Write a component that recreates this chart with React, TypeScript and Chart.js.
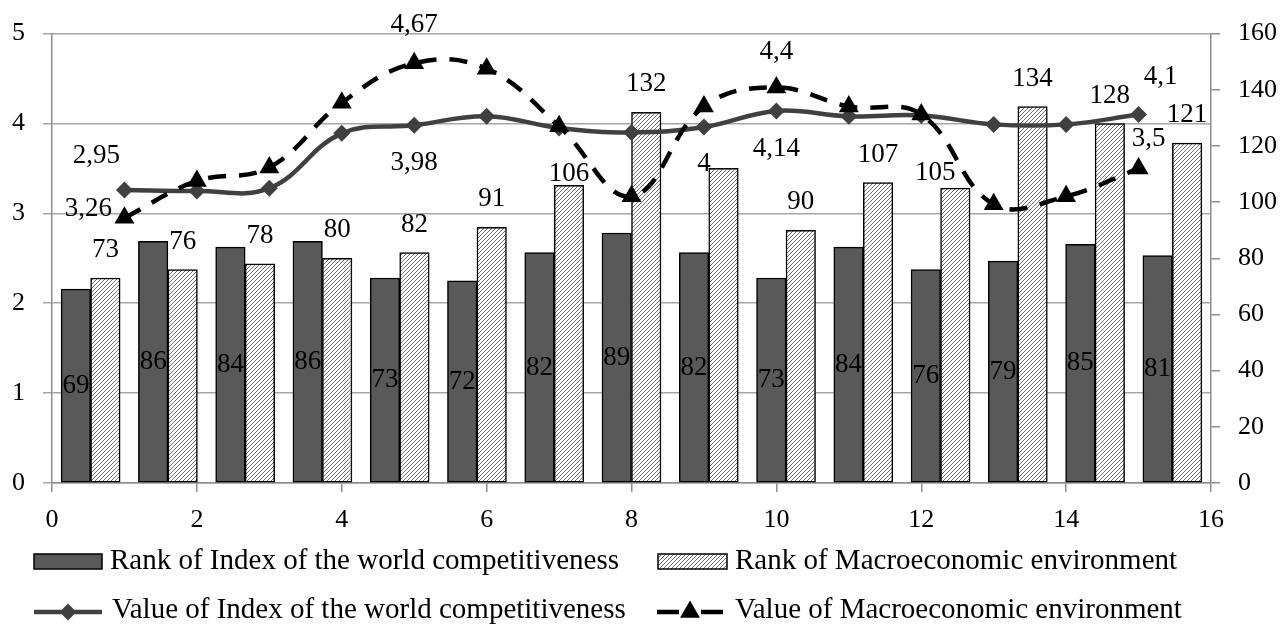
import React, { useEffect, useRef } from 'react';
import { Chart, registerables } from 'chart.js';

Chart.register(...registerables);

// ---------- data ----------
const categories = ['1', '2', '3', '4', '5', '6', '7', '8', '9', '10', '11', '12', '13', '14', '15'];
const periods = [1, 2, 3, 4, 5, 6, 7, 8, 9, 10, 11, 12, 13, 14, 15];
const rankIndex = [69, 86, 84, 86, 73, 72, 82, 89, 82, 73, 84, 76, 79, 85, 81];
const rankMacro = [73, 76, 78, 80, 82, 91, 106, 132, 112, 90, 107, 105, 134, 128, 121];
const valueIndex = [3.26, 3.25, 3.28, 3.89, 3.98, 4.08, 3.95, 3.9, 3.96, 4.14, 4.08, 4.09, 3.99, 3.99, 4.1];
const valueMacro = [2.95, 3.36, 3.51, 4.23, 4.67, 4.61, 3.97, 3.19, 4.19, 4.4, 4.19, 4.1, 3.1, 3.19, 3.5];

const rankMacroLabels = ['73', '76', '78', '80', '82', '91', '106', '132', '', '90', '107', '105', '134', '128', '121'];
const valueIndexLabels = ['2,95', '', '', '', '3,98', '', '', '', '4', '4,14', '', '', '', '', '4,1'];
const valueMacroLabels = ['3,26', '', '', '', '4,67', '', '', '', '', '4,4', '', '', '', '', '3,5'];

const legendNames = [
  'Rank of Index of the world competitiveness',
  'Rank of Macroeconomic environment',
  'Value of Index of the world competitiveness',
  'Value of Macroeconomic environment',
];

const leftTickStep = 1;
const rightTickStep = 20;
const xTickStep = 2;

// ---------- styling (label placement, in px) ----------
const FONT = "'Liberation Serif', 'Times New Roman', serif";
const TICK_FS = 26;
const LABEL_FS = 27;
const LEGEND_FS = 29;
const BAR_W = 29.5;
const macroBarLabelNudge: Record<number, [number, number]> = { 6: [0, -11], 11: [-20, -15] };
const indexLabelNudge: Record<number, [number, number]> = { 0: [-28, -34], 4: [0, 38], 8: [0, 37], 9: [0, 38], 14: [22, -38] };
const macroLabelNudge: Record<number, [number, number]> = { 0: [-36, -9], 4: [0, -38], 9: [0, -36], 14: [10, -30] };

function makeHatch(ctx: CanvasRenderingContext2D) {
  const s = 4;
  const c = document.createElement('canvas');
  c.width = s;
  c.height = s;
  const g = c.getContext('2d')!;
  g.fillStyle = '#ffffff';
  g.fillRect(0, 0, s, s);
  g.strokeStyle = '#707070';
  g.lineWidth = 1;
  g.beginPath();
  g.moveTo(0, s);
  g.lineTo(s, 0);
  g.moveTo(-1, 1);
  g.lineTo(1, -1);
  g.moveTo(s - 1, s + 1);
  g.lineTo(s + 1, s - 1);
  g.stroke();
  return ctx.createPattern(c, 'repeat')!;
}

function drawDiamond(ctx: CanvasRenderingContext2D, x: number, y: number, r: number, color: string) {
  ctx.beginPath();
  ctx.moveTo(x, y - r);
  ctx.lineTo(x + r, y);
  ctx.lineTo(x, y + r);
  ctx.lineTo(x - r, y);
  ctx.closePath();
  ctx.fillStyle = color;
  ctx.fill();
}

function drawTriangle(ctx: CanvasRenderingContext2D, x: number, y: number, r: number, color: string) {
  const h = Math.sqrt(3) / 2 * r;
  ctx.beginPath();
  ctx.moveTo(x, y - r);
  ctx.lineTo(x + h, y + r / 2);
  ctx.lineTo(x - h, y + r / 2);
  ctx.closePath();
  ctx.fillStyle = color;
  ctx.fill();
}

export default function App() {
  const ref = useRef<HTMLCanvasElement | null>(null);

  useEffect(() => {
    document.body.style.margin = '0';
    document.body.style.overflow = 'hidden';
    const canvas = ref.current!;
    const ctx = canvas.getContext('2d')!;
    const hatch = makeHatch(ctx);

    // dataset indices
    const DASHED = 0, SOLID = 1, DARK = 2, HATCH = 3;

    const labelPlugin = {
      id: 'customLabels',
      afterDatasetsDraw(chart: any) {
        const c = chart.ctx as CanvasRenderingContext2D;
        c.save();
        c.font = `${LABEL_FS}px ${FONT}`;
        c.fillStyle = '#000';
        c.textAlign = 'center';
        c.textBaseline = 'middle';
        chart.getDatasetMeta(DARK).data.forEach((bar: any, i: number) => {
          c.fillText(String(rankIndex[i]), bar.x, (bar.y + bar.base) / 2);
        });
        chart.getDatasetMeta(HATCH).data.forEach((bar: any, i: number) => {
          const t = rankMacroLabels[i];
          if (!t) return;
          const [dx, dy] = macroBarLabelNudge[i] ?? [0, -28];
          c.fillText(t, bar.x + dx, bar.y + dy);
        });
        chart.getDatasetMeta(SOLID).data.forEach((pt: any, i: number) => {
          const t = valueIndexLabels[i];
          if (!t) return;
          const [dx, dy] = indexLabelNudge[i] ?? [0, -38];
          c.fillText(t, pt.x + dx, pt.y + dy);
        });
        chart.getDatasetMeta(DASHED).data.forEach((pt: any, i: number) => {
          const t = valueMacroLabels[i];
          if (!t) return;
          const [dx, dy] = macroLabelNudge[i] ?? [0, -38];
          c.fillText(t, pt.x + dx, pt.y + dy);
        });
        c.restore();
      },
      afterDraw(chart: any) {
        const c = chart.ctx as CanvasRenderingContext2D;
        c.save();
        c.font = `${LEGEND_FS}px ${FONT}`;
        c.fillStyle = '#000';
        c.textAlign = 'left';
        c.textBaseline = 'alphabetic';
        // row 1
        const r1 = 569;
        c.fillStyle = '#595959';
        c.fillRect(34, 554, 68, 15);
        c.strokeStyle = '#000';
        c.lineWidth = 1.5;
        c.strokeRect(34, 554, 68, 15);
        c.fillStyle = '#000';
        c.fillText(legendNames[0], 110, r1);
        c.fillStyle = hatch;
        c.fillRect(658, 554, 69, 15);
        c.strokeRect(658, 554, 69, 15);
        c.fillStyle = '#000';
        c.fillText(legendNames[1], 735, r1);
        // row 2
        const r2 = 618;
        const ly = 612;
        c.strokeStyle = '#404040';
        c.lineWidth = 4.5;
        c.beginPath();
        c.moveTo(34, ly);
        c.lineTo(102, ly);
        c.stroke();
        drawDiamond(c, 68, ly, 8.5, '#404040');
        c.fillStyle = '#000';
        c.fillText(legendNames[2], 112, r2);
        c.strokeStyle = '#000';
        c.beginPath();
        c.moveTo(657, ly);
        c.lineTo(679, ly);
        c.moveTo(701, ly);
        c.lineTo(723, ly);
        c.stroke();
        drawTriangle(c, 690, ly, 11.5, '#000');
        c.fillStyle = '#000';
        c.fillText(legendNames[3], 735, r2);
        c.restore();
      },
    };

    const axisGray = '#8c8c8c';
    const gridGray = '#a6a6a6';
    const tickFont = { family: FONT, size: TICK_FS };

    const chart = new Chart(canvas, {
      type: 'bar',
      data: {
        labels: categories,
        datasets: [
          {
            type: 'line',
            label: legendNames[3],
            data: periods.map((p, i) => ({ x: p, y: valueMacro[i] })),
            xAxisID: 'xv',
            yAxisID: 'yL',
            grouped: false,
            borderColor: '#000',
            backgroundColor: '#000',
            borderWidth: 4.5,
            borderDash: [18, 13],
            tension: 0.4,
            pointStyle: 'triangle',
            pointRadius: 11.5,
            pointBorderWidth: 0,
            fill: false,
          },
          {
            type: 'line',
            label: legendNames[2],
            data: periods.map((p, i) => ({ x: p, y: valueIndex[i] })),
            xAxisID: 'xv',
            yAxisID: 'yL',
            grouped: false,
            borderColor: '#404040',
            backgroundColor: '#404040',
            borderWidth: 4.5,
            tension: 0.4,
            pointStyle: 'rectRot',
            pointRadius: 8.5,
            pointBorderWidth: 0,
            fill: false,
          },
          {
            type: 'bar',
            label: legendNames[0],
            data: rankIndex,
            xAxisID: 'x',
            yAxisID: 'yR',
            backgroundColor: '#595959',
            borderColor: '#000',
            borderWidth: 1.5,
            borderSkipped: false,
            barThickness: BAR_W,
          },
          {
            type: 'bar',
            label: legendNames[1],
            data: rankMacro,
            xAxisID: 'x',
            yAxisID: 'yR',
            backgroundColor: hatch as any,
            borderColor: '#000',
            borderWidth: 1.5,
            borderSkipped: false,
            barThickness: BAR_W,
          },
        ] as any,
      },
      options: {
        responsive: false,
        animation: false,
        layout: { padding: { top: 32, left: 0, right: 0, bottom: 0 } },
        plugins: {
          legend: { display: false },
          tooltip: { enabled: false },
          title: { display: false },
        },
        scales: {
          x: {
            type: 'category',
            display: false,
            offset: true,
            grid: { offset: true },
          },
          xv: {
            type: 'linear',
            position: 'bottom',
            min: 0,
            max: 16,
            offset: false,
            ticks: { stepSize: xTickStep, font: tickFont, color: '#000', padding: 13, maxRotation: 0 },
            grid: { offset: false, drawOnChartArea: false, drawTicks: true, tickLength: 9, color: axisGray, lineWidth: 1.5 },
            border: { color: axisGray, width: 1.5 },
            afterFit: (s: any) => { s.height = 142; },
          },
          yL: {
            type: 'linear',
            position: 'left',
            min: 0,
            max: 5,
            ticks: { stepSize: leftTickStep, font: tickFont, color: '#000', padding: 18 },
            grid: { color: gridGray, lineWidth: 1.5, tickLength: 9, drawTicks: true },
            border: { color: axisGray, width: 1.5 },
            afterFit: (s: any) => { s.width = 52; },
          },
          yR: {
            type: 'linear',
            position: 'right',
            min: 0,
            max: 160,
            ticks: { stepSize: rightTickStep, font: tickFont, color: '#000', padding: 18 },
            grid: { drawOnChartArea: false, color: axisGray, lineWidth: 1.5, tickLength: 9, drawTicks: true },
            border: { color: axisGray, width: 1.5 },
            afterFit: (s: any) => { s.width = 70; },
          },
        },
      } as any,
      plugins: [labelPlugin],
    });

    return () => chart.destroy();
  }, []);

  return (
    <canvas
      ref={ref}
      width={1281}
      height={625}
      style={{ display: 'block', width: '1281px', height: '625px', background: '#fff' }}
    />
  );
}
